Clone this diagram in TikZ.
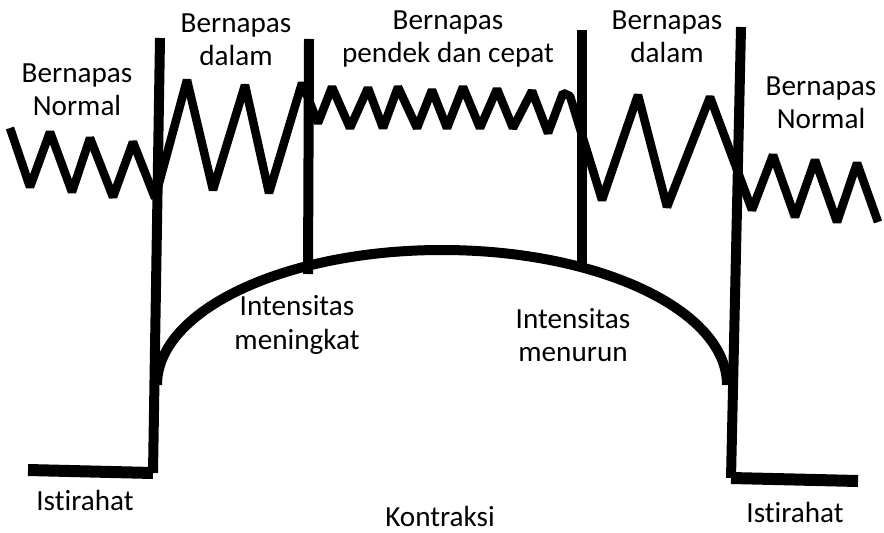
\documentclass[tikz,border=0pt]{standalone}
\usepackage{fontspec}
\setmainfont{Carlito}[Ligatures=CommonOff]
\usepackage{tikz}
\tikzset{
  bar/.style={line width=0.2cm},
  base/.style={line width=0.24cm},
  wave/.style={line width=0.17cm,line join=bevel},
  lbl/.style={align=center,font=\fontsize{16.6}{19}\selectfont}
}

\begin{document}
\begin{tikzpicture}[x=0.02cm,y=-0.02cm]
    \useasboundingbox (0,0) rectangle (884,533);
    % Bar ends
    \coordinate (b1bot) at (153,473);
    \coordinate (b1top) at (160,38);
    \coordinate (b2bot) at (308,274);
    \coordinate (b2top) at (309,39);
    \coordinate (b3bot) at (582,266);
    \coordinate (b3top) at (582,30);
    \coordinate (b4bot) at (731,478);
    \coordinate (b4top) at (741,27);
    % Rest lines
    \coordinate (restL) at (28,470);
    \coordinate (restR) at (858,481);
    \draw[base] (restL) -- (b1bot);
    \draw[base] (b4bot) -- (restR);
    % Contraction curve
    \draw[bar] (157,385) arc[start angle=180,end angle=360,x radius=285,y radius=135];
    % Vertical bars
    \draw[bar] (b1bot) -- (b1top);
    \draw[bar] (b2bot) -- (b2top);
    \draw[bar] (b3bot) -- (b3top);
    \draw[bar] (b4bot) -- (b4top);
    % Breathing wave
    \draw[wave] (10,128) -- (30,187) -- (50,132) -- (72,192) -- (90,138)
      -- (113,197) -- (133,142) -- (155,198)
      -- (187,80) -- (213,190) -- (245,85) -- (269,193) -- (302,83)
      -- (318,123) -- (332,87) -- (350,128) -- (368,88) -- (383,128)
      -- (398,87) -- (417,128) -- (432,90) -- (447,128) -- (463,87)
      -- (480,128) -- (497,89) -- (513,128) -- (532,91) -- (548,133)
      -- (563,93) -- (570,96)
      -- (602,200) -- (638,95) -- (667,207) -- (710,97) -- (752,210)
      -- (773,155) -- (795,217) -- (815,160) -- (837,222) -- (857,163)
      -- (878,222);
    % Labels
    \node[lbl] (normL) at (77,90) {Bernapas\\Normal};
    \node[lbl] (dalamL) at (236,40) {Bernapas\\dalam};
    \node[lbl] (cepat) at (448,39) {Bernapas\\pendek dan cepat};
    \node[lbl] (dalamR) at (667,37) {Bernapas\\dalam};
    \node[lbl] (normR) at (821,103) {Bernapas\\Normal};
    \node[lbl] (naik) at (297,325) {Intensitas\\meningkat};
    \node[lbl] (turun) at (573,335) {Intensitas\\menurun};
    \node[lbl] (istL) at (85,500) {Istirahat};
    \node[lbl] (kontr) at (440,516) {Kontraksi};
    \node[lbl] (istR) at (795,512) {Istirahat};
\end{tikzpicture}
\end{document}
